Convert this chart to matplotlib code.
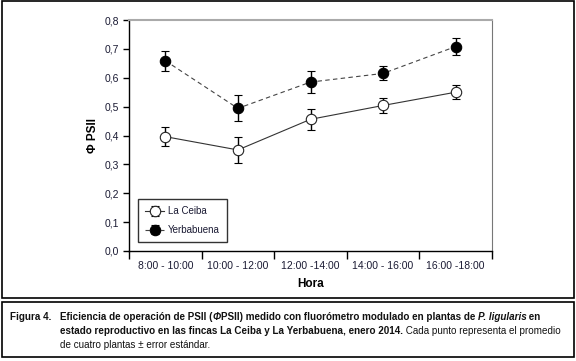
import matplotlib
matplotlib.use('Agg')
import matplotlib.pyplot as plt
from matplotlib.patches import Rectangle

plt.rcParams['font.family'] = ['Liberation Sans Narrow', 'Liberation Sans', 'DejaVu Sans']

horas = ['8:00 - 10:00', '10:00 - 12:00', '12:00 -14:00', '14:00 - 16:00', '16:00 -18:00']
ceiba = [0.396, 0.350, 0.456, 0.504, 0.550]
ceiba_err = [0.032, 0.045, 0.036, 0.025, 0.025]
yerba = [0.659, 0.494, 0.585, 0.615, 0.708]
yerba_err = [0.034, 0.045, 0.037, 0.024, 0.028]
yticks = [0.0, 0.1, 0.2, 0.3, 0.4, 0.5, 0.6, 0.7, 0.8]

W, H = 576, 361
fig = plt.figure(figsize=(W / 100, H / 100), dpi=100)

def fx(px):
    return px / W

def fy(py):
    return 1 - py / H

# boxes round chart and caption
fig.patches.append(Rectangle((fx(2), fy(298)), fx(572), 297 / H, transform=fig.transFigure,
                             fill=False, edgecolor='black', linewidth=1.2))
fig.patches.append(Rectangle((fx(2), fy(357)), fx(572), 55 / H, transform=fig.transFigure,
                             fill=False, edgecolor='black', linewidth=1.2))

# axes
ax = fig.add_axes([fx(129), fy(251), fx(492 - 129), (251 - 20) / H])
x = list(range(len(horas)))
ax.errorbar(x, ceiba, yerr=ceiba_err, color='#333333', linestyle='-', linewidth=0.8,
            marker='o', markersize=7.5, markerfacecolor='white', markeredgecolor='#222222',
            markeredgewidth=0.8, ecolor='black', elinewidth=1.0, capsize=3, capthick=1.0,
            label='La Ceiba', zorder=3)
ax.errorbar(x, yerba, yerr=yerba_err, color='#444444', linestyle=(0, (4, 3)), linewidth=0.8,
            marker='o', markersize=7.5, markerfacecolor='black', markeredgecolor='black',
            markeredgewidth=0.8, ecolor='black', elinewidth=1.0, capsize=3, capthick=1.0,
            label='Yerbabuena', zorder=3)

ax.set_xlim(-0.5, 4.5)
ax.set_ylim(0, 0.8)
ax.set_yticks(yticks)
ax.set_yticklabels([f'{v:.1f}'.replace('.', ',') for v in yticks])
ax.set_xticks(x)
ax.set_xticklabels(horas)
ax.set_xticks([i - 0.5 for i in range(len(horas) + 1)], minor=True)
ax.tick_params(axis='x', which='major', length=0, pad=7, labelsize=7.5, labelcolor='#1a1a33')
ax.tick_params(axis='x', which='minor', length=6, width=1.0, direction='out')
ax.tick_params(axis='y', length=4, width=1.0, direction='out', pad=3, labelsize=7.5,
               labelcolor='#1a1a33')
ax.spines['top'].set_color('#aaaaaa')
ax.spines['top'].set_linewidth(1.5)
ax.spines['right'].set_color('#777777')
ax.spines['left'].set_linewidth(1.0)
ax.spines['bottom'].set_linewidth(1.0)

ax.set_xlabel('Hora', fontsize=8.5, fontweight='bold', labelpad=5)
ax.set_ylabel('Φ PSII', fontsize=8.5, fontweight='bold', labelpad=4)

leg = ax.legend(loc='lower left', bbox_to_anchor=(0.025, 0.04), borderaxespad=0,
                fontsize=7, frameon=True, fancybox=False, edgecolor='black',
                handlelength=2.0, borderpad=0.7, labelspacing=0.9, handletextpad=0.4)
leg.get_frame().set_linewidth(1.0)
for t in leg.get_texts():
    t.set_color('#1a1a33')

# caption with mixed styles
renderer = fig.canvas.get_renderer()

def runs(x0, y0, parts, size=7.1):
    xp = x0
    for txt, weight, style in parts:
        t = fig.text(fx(xp), fy(y0), txt, fontsize=size, fontweight=weight, fontstyle=style,
                     va='baseline', ha='left', color='#111111')
        bb = t.get_window_extent(renderer=renderer)
        xp += bb.width

runs(10, 320, [('Figura 4.', 'bold', 'normal')])
runs(60, 320, [('Eficiencia de operación de PSII (', 'bold', 'normal'),
               ('Φ', 'bold', 'italic'),
               ('PSII) medido con fluorómetro modulado en plantas de ', 'bold', 'normal'),
               ('P. ligularis', 'bold', 'italic'),
               (' en', 'bold', 'normal')])
runs(60, 334, [('estado reproductivo en las fincas La Ceiba y La Yerbabuena, enero 2014.', 'bold', 'normal'),
               (' Cada punto representa el promedio', 'normal', 'normal')])
runs(60, 348, [('de cuatro plantas ± error estándar.', 'normal', 'normal')])

fig.savefig('out.png', dpi=100)
